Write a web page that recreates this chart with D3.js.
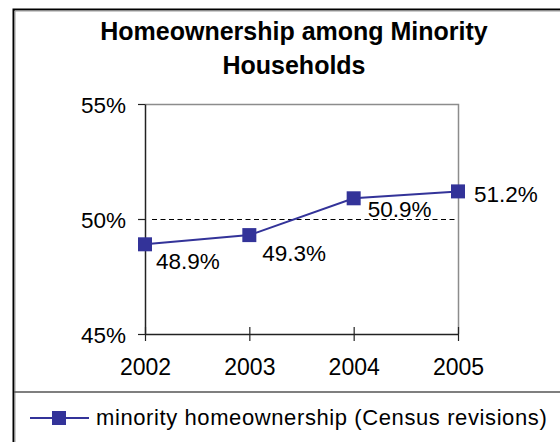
<!DOCTYPE html>
<html>
<head>
<meta charset="utf-8">
<script src="https://cdn.jsdelivr.net/npm/d3@7"></script>
<style>
  html, body { margin: 0; padding: 0; background: #fff; }
  svg { display: block; font-family: "Liberation Sans", Arial, sans-serif; }
</style>
</head>
<body>
<svg id="chart" width="560" height="442"></svg>
<script>
// Minority homeownership rate by year (percent)
const years = ["2002", "2003", "2004", "2005"];
const ownership = [48.9, 49.3, 50.9, 51.2];
const yTicks = [45, 50, 55];
const titleLines = ["Homeownership among Minority", "Households"];
const seriesName = "minority homeownership (Census revisions)";

const svg = d3.select("#chart");
const lineColor = "#333399";

// Plot frame
const plot = { left: 145, right: 458, top: 104, bottom: 334 };

const x = d3.scalePoint().domain(years).range([plot.left, plot.right]);
const y = d3.scaleLinear().domain([45, 55]).range([plot.bottom, plot.top]);

// Chart area border (black edge with a thin grey inner edge)
svg.append("path")
  .attr("d", "M13.5,442 V9.5 H560")
  .attr("fill", "none").attr("stroke", "#000").attr("stroke-width", 2);
svg.append("path")
  .attr("d", "M15,442 V11 H560")
  .attr("fill", "none").attr("stroke", "#9a9a9a").attr("stroke-width", 1);

// Title
svg.append("g").selectAll("text")
  .data(titleLines)
  .join("text")
  .attr("x", 294)
  .attr("y", (d, i) => 40 + i * 34)
  .attr("text-anchor", "middle")
  .attr("font-size", 25)
  .attr("font-weight", "bold")
  .attr("fill", "#000")
  .text(d => d);

// Grey top and right plot borders
svg.append("path")
  .attr("d", `M${plot.left},${plot.top + 0.5} H${plot.right + 0.5} V${plot.bottom}`)
  .attr("fill", "none").attr("stroke", "#8c8c8c").attr("stroke-width", 1.5);

// Dashed reference line at 50%
svg.append("line")
  .attr("x1", plot.left + 7).attr("x2", plot.right)
  .attr("y1", y(50) + 0.5).attr("y2", y(50) + 0.5)
  .attr("stroke", "#000").attr("stroke-width", 1)
  .attr("stroke-dasharray", "5,3.5");

// Y axis
const yAxis = svg.append("g")
  .attr("transform", `translate(${plot.left},0)`)
  .call(d3.axisLeft(y).tickValues(yTicks).tickSize(7).tickSizeOuter(0)
    .tickPadding(12).tickFormat(d => d + "%"));
yAxis.select(".domain").attr("stroke", "#222").attr("stroke-width", 1.5);
yAxis.selectAll(".tick line").attr("stroke", "#222").attr("stroke-width", 1.2);
yAxis.selectAll(".tick text")
  .attr("font-size", 22.5).attr("font-family", "Liberation Sans, Arial, sans-serif")
  .attr("fill", "#000").attr("dy", "0.36em");

// X axis (ticks cross the axis line)
const xAxis = svg.append("g")
  .attr("transform", `translate(0,${plot.bottom})`)
  .call(d3.axisBottom(x).tickSize(7).tickSizeOuter(0));
xAxis.select(".domain").attr("stroke", "#222").attr("stroke-width", 1.5);
xAxis.selectAll(".tick line").attr("y1", -7).attr("stroke", "#222").attr("stroke-width", 1.2);
xAxis.selectAll(".tick text")
  .attr("font-size", 23).attr("font-family", "Liberation Sans, Arial, sans-serif")
  .attr("fill", "#000").attr("y", 41).attr("dy", 0);

// Series line
const pts = years.map((yr, i) => ({ year: yr, value: ownership[i] }));
svg.append("path")
  .datum(pts)
  .attr("fill", "none")
  .attr("stroke", lineColor)
  .attr("stroke-width", 2)
  .attr("d", d3.line().x(d => x(d.year)).y(d => y(d.value)));

// Square markers
const m = 14;
svg.append("g").selectAll("rect")
  .data(pts)
  .join("rect")
  .attr("x", d => x(d.year) - m / 2)
  .attr("y", d => y(d.value) - m / 2)
  .attr("width", m).attr("height", m)
  .attr("fill", lineColor);

// Value labels (per-point nudges: left edge and baseline relative to the marker)
const nudges = [[11, 25], [13, 26], [14, 19], [16, 11]];
svg.append("g").selectAll("text")
  .data(pts)
  .join("text")
  .attr("x", (d, i) => x(d.year) + nudges[i][0])
  .attr("y", (d, i) => y(d.value) + nudges[i][1])
  .attr("font-size", 22.5)
  .attr("fill", "#000")
  .text(d => d.value.toFixed(1) + "%");

// Legend box
svg.append("line")
  .attr("x1", 14).attr("x2", 560)
  .attr("y1", 392).attr("y2", 392)
  .attr("stroke", "#555").attr("stroke-width", 1.5);

const legend = svg.append("g").attr("transform", "translate(0,418)");
legend.append("line")
  .attr("x1", 30).attr("x2", 89).attr("y1", 0).attr("y2", 0)
  .attr("stroke", lineColor).attr("stroke-width", 2);
legend.append("rect")
  .attr("x", 59 - m / 2).attr("y", -m / 2)
  .attr("width", m).attr("height", m)
  .attr("fill", lineColor);
legend.append("text")
  .attr("x", 96).attr("y", 7)
  .attr("font-size", 22)
  .attr("letter-spacing", 0.6)
  .attr("fill", "#000")
  .text(seriesName);
</script>
</body>
</html>
